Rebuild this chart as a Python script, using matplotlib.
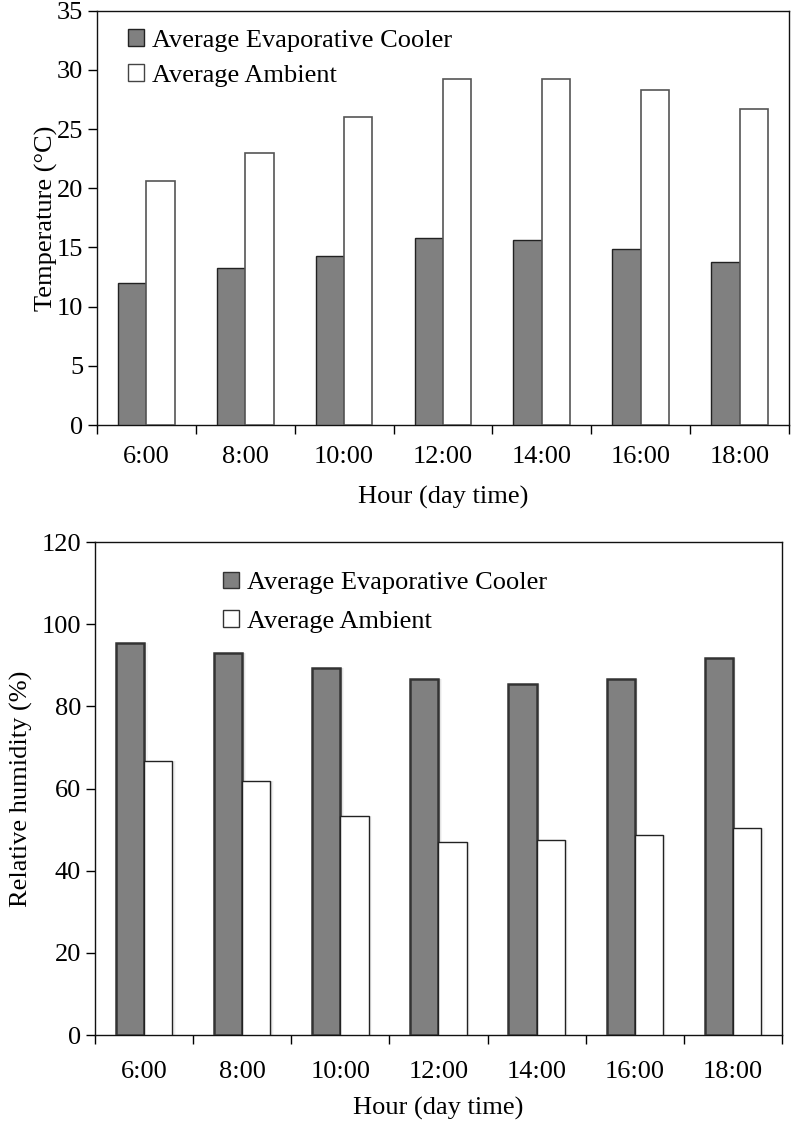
import matplotlib
matplotlib.use("Agg")
import matplotlib.pyplot as plt
import numpy as np
from matplotlib.patches import Patch

hours = ["6:00", "8:00", "10:00", "12:00", "14:00", "16:00", "18:00"]
temp_cooler = [12.0, 13.3, 14.3, 15.8, 15.6, 14.9, 13.75]
temp_ambient = [20.6, 23.0, 26.0, 29.2, 29.2, 28.3, 26.7]
rh_cooler = [95.5, 93.1, 89.4, 86.7, 85.5, 86.7, 91.8]
rh_ambient = [66.8, 61.8, 53.4, 46.9, 47.5, 48.7, 50.3]
legend_labels = ["Average Evaporative Cooler", "Average Ambient"]

plt.rcParams['font.family'] = ['Liberation Serif', 'DejaVu Serif']
FS = 19

fig = plt.figure(figsize=(7.93, 11.28), dpi=100)
ax1 = fig.add_axes([0.1223, 0.6232, 0.8726, 0.3673])
ax2 = fig.add_axes([0.1198, 0.0824, 0.8663, 0.4371])

x = np.arange(len(hours))
w = 0.287

def style(ax, ymax, ystep, ylabel, xlabelpad, ylabelpad, xpad):
    ax.set_xlim(-0.5, len(hours) - 0.5)
    ax.set_ylim(0, ymax)
    ax.set_yticks(np.arange(0, ymax + 0.1, ystep))
    ax.set_xticks(x)
    ax.set_xticklabels(hours, fontsize=FS)
    ax.set_xticks(np.arange(-0.5, len(hours), 1.0), minor=True)
    ax.tick_params(axis='x', which='major', length=0, pad=xpad)
    ax.tick_params(axis='x', which='minor', length=6.5, width=1.0, direction='out')
    ax.tick_params(axis='y', which='major', length=6.5, width=1.0, direction='out',
                   labelsize=FS, pad=3.5)
    for s in ax.spines.values():
        s.set_linewidth(1.0)
        s.set_color('#111111')
    ax.set_ylabel(ylabel, fontsize=FS, labelpad=ylabelpad)
    ax.set_xlabel("Hour (day time)", fontsize=FS, labelpad=xlabelpad)

# Top chart
ax1.bar(x - w / 2, temp_cooler, w, color='#808080', edgecolor='#222222', linewidth=1.0, zorder=3)
ax1.bar(x + w / 2, temp_ambient, w, color='white', edgecolor='#555555', linewidth=1.2, zorder=3)
style(ax1, 35, 5, "Temperature (°C)", 13, -1, 15)
h1 = [Patch(facecolor='#808080', edgecolor='#222222', linewidth=1.0),
      Patch(facecolor='white', edgecolor='#444444', linewidth=1.0)]
ax1.legend(h1, legend_labels, loc='upper left', bbox_to_anchor=(0.045, 0.955),
           frameon=False, fontsize=FS, handlelength=0.6, handleheight=0.6,
           handletextpad=0.3, labelspacing=0.47, borderpad=0, borderaxespad=0)

# Bottom chart with soft shadows
for k, a in enumerate([0.10, 0.07, 0.04]):
    off = 0.012 * (k + 1)
    ax2.bar(x - w / 2 + off, rh_cooler, w, color='black', alpha=a, linewidth=0, zorder=2)
    ax2.bar(x + w / 2 + off, rh_ambient, w, color='black', alpha=a * 0.6, linewidth=0, zorder=2)
ax2.bar(x - w / 2, rh_cooler, w, color='#808080', edgecolor='#333333', linewidth=1.8, zorder=3)
ax2.bar(x + w / 2, rh_ambient, w, color='white', edgecolor='#222222', linewidth=1.0, zorder=3)
style(ax2, 120, 20, "Relative humidity (%)", 10, 6, 19)
h2 = [Patch(facecolor='#808080', edgecolor='#333333', linewidth=1.0),
      Patch(facecolor='white', edgecolor='#333333', linewidth=1.0)]
ax2.legend(h2, legend_labels, loc='upper left', bbox_to_anchor=(0.186, 0.94),
           frameon=False, fontsize=FS, handlelength=0.6, handleheight=0.6,
           handletextpad=0.3, labelspacing=0.6, borderpad=0, borderaxespad=0)

fig.savefig("out.png", dpi=100)
